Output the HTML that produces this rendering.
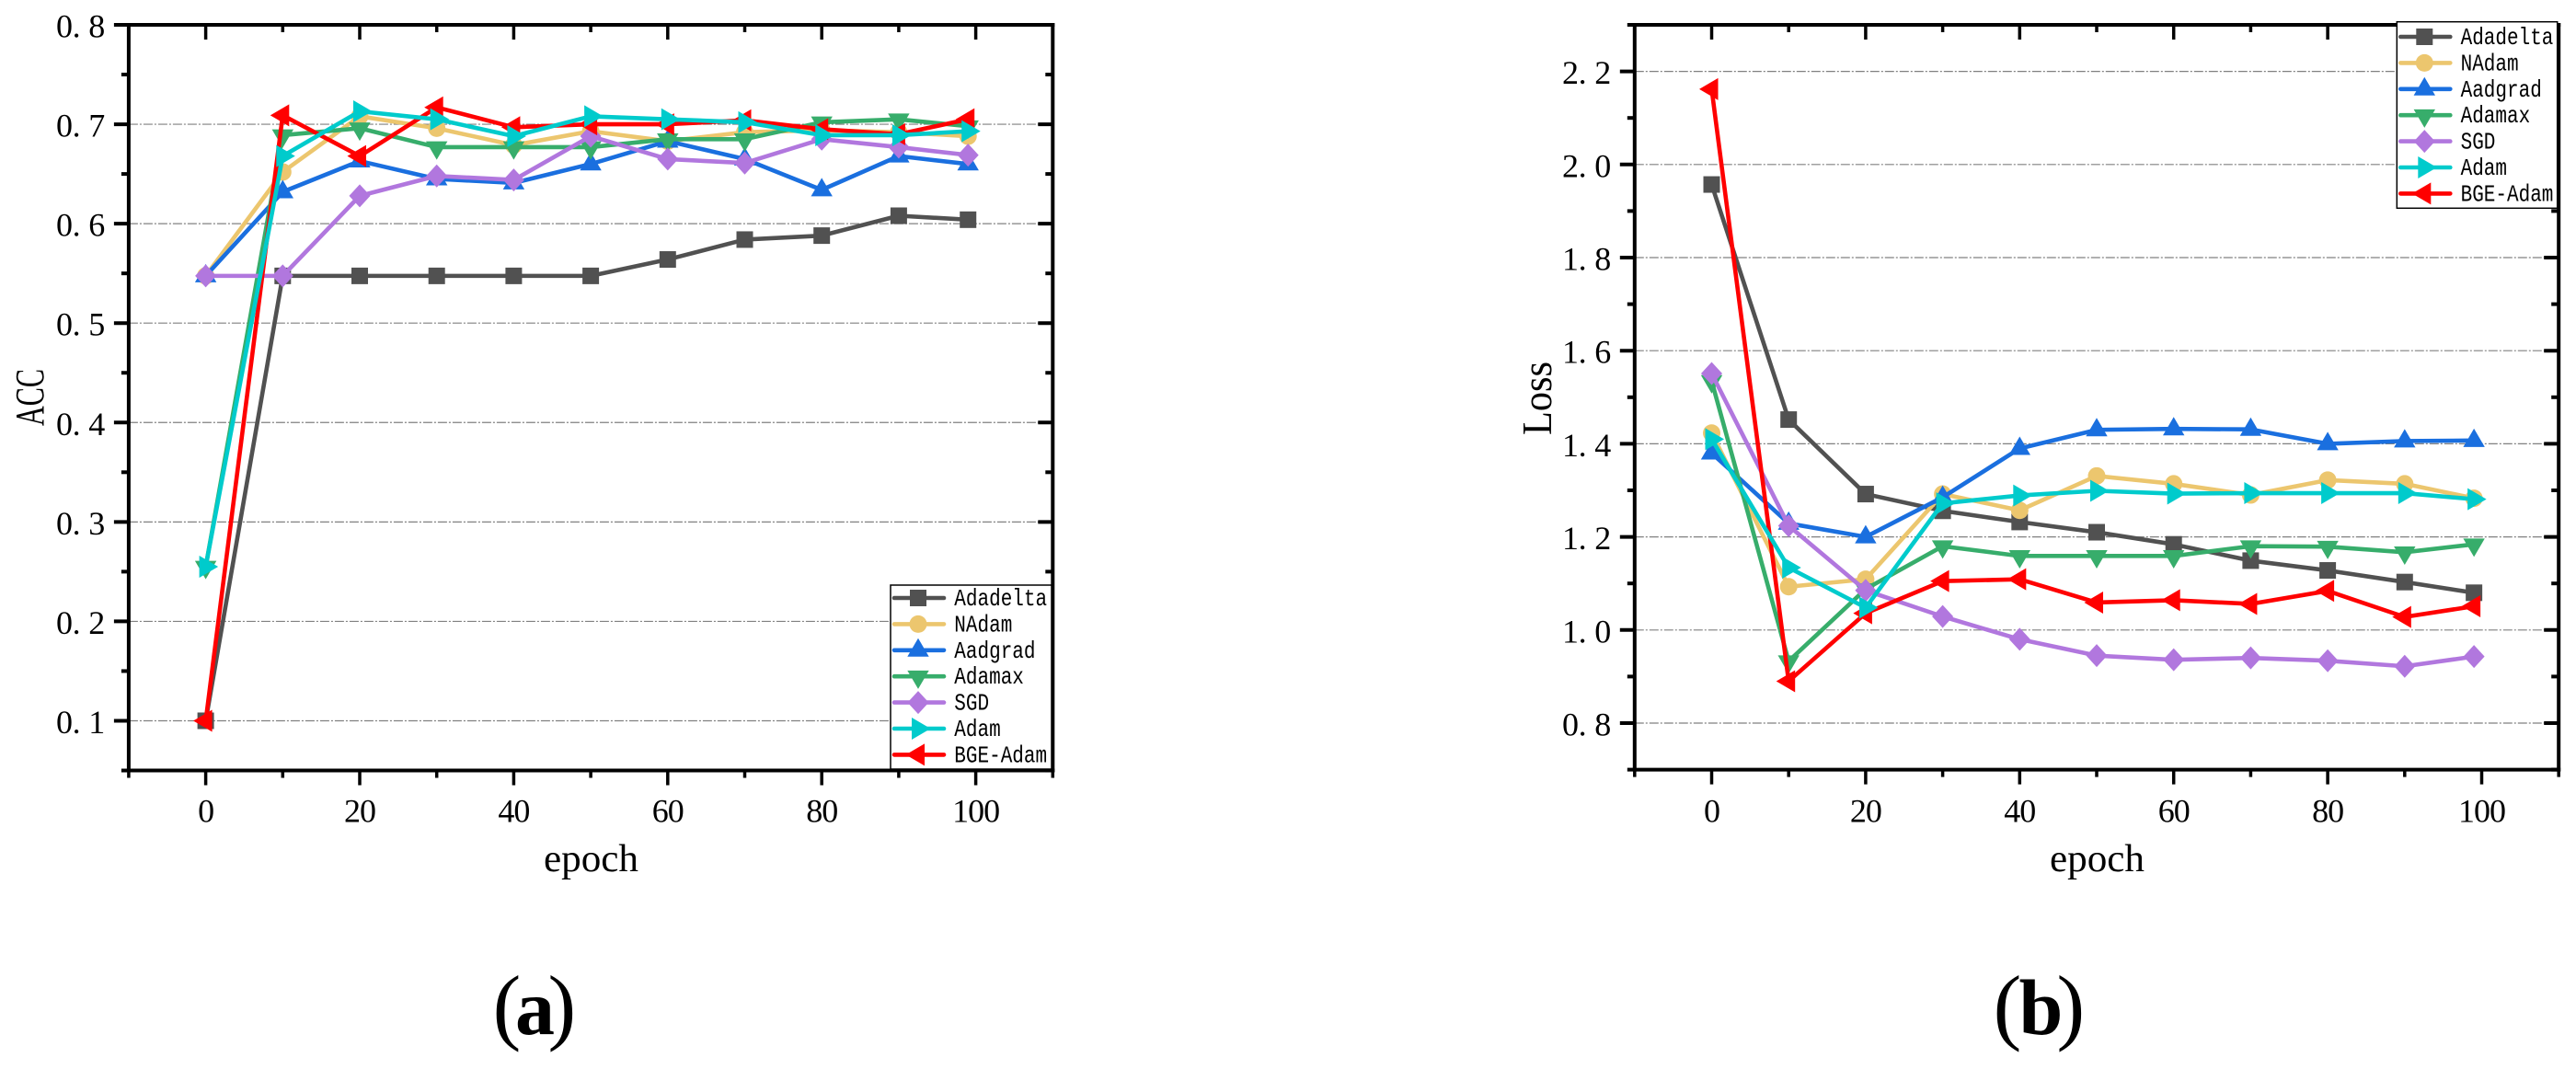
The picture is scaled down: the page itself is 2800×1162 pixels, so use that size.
<!DOCTYPE html>
<html lang="en">
<head>
<meta charset="utf-8">
<title>ACC and Loss per epoch for seven optimizers</title>
<style>
  html, body { margin: 0; padding: 0; background: #fff; }
  svg { display: block; }
  text { fill: #000; }
  .serif { font-family: "Liberation Serif", serif; }
  .mono { font-family: "Liberation Mono", monospace; }
</style>
</head>
<body>
<svg id="figure" xmlns="http://www.w3.org/2000/svg" width="2800" height="1162" viewBox="0 0 2800 1162">
  <rect x="0" y="0" width="2800" height="1162" fill="#ffffff"/>
  <g id="panel-a"></g>
  <g id="panel-b"></g>

  <text class="serif" font-size="44" text-anchor="middle" textLength="62" lengthAdjust="spacingAndGlyphs" transform="translate(47,432) rotate(-90)">ACC</text>
  <text class="serif" font-size="42" text-anchor="middle" textLength="103" lengthAdjust="spacingAndGlyphs" x="642.5" y="947">epoch</text>
  <text class="serif" font-size="92" y="1124"><tspan x="535.6">(</tspan><tspan x="560" font-size="86" font-weight="bold">a</tspan><tspan x="595.5">)</tspan></text>

  <text class="serif" font-size="46" text-anchor="middle" textLength="80" lengthAdjust="spacingAndGlyphs" transform="translate(1686,433) rotate(-90)">Loss</text>
  <text class="serif" font-size="42" text-anchor="middle" textLength="103" lengthAdjust="spacingAndGlyphs" x="2279.5" y="947">epoch</text>
  <text class="serif" font-size="92" y="1124"><tspan x="2166.6">(</tspan><tspan x="2194.5" font-size="86" font-weight="bold">b</tspan><tspan x="2235.5">)</tspan></text>
</svg>

<script>
// ---- shared categories and tick labels ----
const epochs = [0, 10, 20, 30, 40, 50, 60, 70, 80, 90, 99];
const xMajorTicks = [0, 20, 40, 60, 80, 100];
const xMinorTicks = [-10, 10, 30, 50, 70, 90, 110];
const seriesNames = ['Adadelta', 'NAdam', 'Aadgrad', 'Adamax', 'SGD', 'Adam', 'BGE-Adam'];

// ---- panel (a): ACC ----
const accTickLabels = ['0.1', '0.2', '0.3', '0.4', '0.5', '0.6', '0.7', '0.8'];
const accMinorTicks = [0.05, 0.15, 0.25, 0.35, 0.45, 0.55, 0.65, 0.75];
const accAdadelta = [0.1, 0.5475, 0.5475, 0.5475, 0.5475, 0.5475, 0.564, 0.584, 0.588, 0.608, 0.604];
const accNAdam = [0.5475, 0.652, 0.708, 0.696, 0.679, 0.693, 0.683, 0.692, 0.694, 0.692, 0.688];
const accAadgrad = [0.5475, 0.632, 0.663, 0.645, 0.641, 0.66, 0.683, 0.665, 0.634, 0.668, 0.66];
const accAdamax = [0.255, 0.689, 0.696, 0.677, 0.677, 0.677, 0.685, 0.685, 0.702, 0.705, 0.698];
const accSGD = [0.5475, 0.5475, 0.628, 0.648, 0.644, 0.688, 0.665, 0.661, 0.685, 0.677, 0.669];
const accAdam = [0.255, 0.668, 0.713, 0.705, 0.688, 0.708, 0.705, 0.702, 0.689, 0.689, 0.693];
const accBGEAdam = [0.1, 0.709, 0.668, 0.717, 0.697, 0.7, 0.7, 0.704, 0.695, 0.69, 0.705];

// ---- panel (b): Loss ----
const lossTickLabels = ['0.8', '1.0', '1.2', '1.4', '1.6', '1.8', '2.0', '2.2'];
const lossMinorTicks = [0.7, 0.9, 1.1, 1.3, 1.5, 1.7, 1.9, 2.1, 2.3];
const lossAdadelta = [1.957, 1.452, 1.292, 1.256, 1.232, 1.21, 1.184, 1.149, 1.128, 1.103, 1.08];
const lossNAdam = [1.423, 1.093, 1.109, 1.292, 1.257, 1.331, 1.314, 1.29, 1.322, 1.314, 1.283];
const lossAadgrad = [1.38, 1.229, 1.2, 1.285, 1.39, 1.43, 1.432, 1.431, 1.4, 1.406, 1.407];
const lossAdamax = [1.535, 0.933, 1.088, 1.18, 1.159, 1.159, 1.159, 1.18, 1.179, 1.167, 1.184];
const lossSGD = [1.551, 1.224, 1.085, 1.029, 0.98, 0.945, 0.936, 0.94, 0.934, 0.922, 0.943];
const lossAdam = [1.41, 1.134, 1.048, 1.272, 1.289, 1.299, 1.293, 1.294, 1.294, 1.294, 1.281];
const lossBGEAdam = [2.162, 0.89, 1.036, 1.105, 1.109, 1.059, 1.064, 1.056, 1.084, 1.028, 1.051];

// ---- styles (kept apart from the data) ----
const seriesColors = ['#515151', '#ECC66E', '#1A6FDF', '#37AD6B', '#B177DE', '#00CBCC', '#FF0000'];
const seriesShapes = ['square', 'circle', 'up', 'down', 'diamond', 'right', 'left'];
const paintOrder = [0, 1, 2, 3, 4, 6, 5];

const SVG_NS = 'http://www.w3.org/2000/svg';

function make(parent, tag, attrs) {
  const el = document.createElementNS(SVG_NS, tag);
  for (const key in attrs) el.setAttribute(key, attrs[key]);
  parent.appendChild(el);
  return el;
}

function slug(name) {
  return name.toLowerCase().replace(/[^a-z0-9]+/g, '-');
}

function drawMarker(parent, shape, x, y, color) {
  if (shape === 'square') {
    return make(parent, 'rect', { x: x - 9, y: y - 9, width: 18, height: 18, fill: color });
  }
  if (shape === 'circle') {
    return make(parent, 'circle', { cx: x, cy: y, r: 9.5, fill: color });
  }
  let pts;
  if (shape === 'up') pts = [[0, -13], [11.7, 7], [-11.7, 7]];
  if (shape === 'down') pts = [[0, 13.7], [11.7, -6.3], [-11.7, -6.3]];
  if (shape === 'right') pts = [[13.5, 0], [-7, 12], [-7, -12]];
  if (shape === 'left') pts = [[-13.5, 0], [7, 12], [7, -12]];
  if (shape === 'diamond') pts = [[0, -12.5], [11.5, 0], [0, 12.5], [-11.5, 0]];
  return make(parent, 'polygon', {
    points: pts.map(p => (x + p[0]) + ',' + (y + p[1])).join(' '),
    fill: color
  });
}

function drawCellText(parent, label, startX, baseline, cell) {
  const xs = [];
  for (let i = 0; i < label.length; i++) xs.push(startX + i * cell);
  const t = make(parent, 'text', { x: xs.join(' '), y: baseline, 'font-size': 36, class: 'serif' });
  t.textContent = label;
  return t;
}

function drawPanel(cfg) {
  const root = document.getElementById(cfg.rootId);
  const xPos = v => cfg.x0 + cfg.xUnit * v;
  const yPos = v => cfg.yTop + (cfg.yMax - v) * cfg.yUnit;
  const left = xPos(-10), right = xPos(110), top = yPos(cfg.yMax), bottom = yPos(cfg.yMin);

  // gridlines
  cfg.tickLabels.forEach(label => {
    const v = parseFloat(label);
    if (v >= cfg.yMax) return;
    const grid = make(root, 'line', {
      x1: left, x2: right, y1: yPos(v), y2: yPos(v),
      stroke: '#808080', 'stroke-width': 1.2, 'stroke-dasharray': '10 2 2 2'
    });
    
    
  });

  // series
  paintOrder.forEach(i => {
    const values = cfg.series[i];
    const color = seriesColors[i];
    const group = make(root, 'g', {});
    
    
    const line = make(group, 'polyline', {
      points: values.map((v, k) => xPos(epochs[k]) + ',' + yPos(v)).join(' '),
      fill: 'none', stroke: color, 'stroke-width': 4.6, 'stroke-linejoin': 'round'
    });
    
    
    values.forEach((v, k) => {
      const m = drawMarker(group, seriesShapes[i], xPos(epochs[k]), yPos(v), color);
      
      
    });
  });

  // axis frame
  const frame = [
    [left, top, right + 2, top, 'top-axis'],
    [left, bottom, right + 2, bottom, 'x-axis'],
    [left, top - 2, left, bottom + 2, 'y-axis'],
    [right, top - 2, right, bottom + 2, 'right-axis']
  ];
  frame.forEach(a => {
    const el = make(root, 'line', { x1: a[0], y1: a[1], x2: a[2], y2: a[3], stroke: '#000', 'stroke-width': 4 });
    
    
  });

  // x ticks
  function xTick(v, len) {
    const x = xPos(v);
    const lower = make(root, 'line', { x1: x, x2: x, y1: bottom, y2: bottom + len, stroke: '#000', 'stroke-width': 3.5 });
    
    
    if (v === -10 || v === 110) return;
    const upper = make(root, 'line', { x1: x, x2: x, y1: top, y2: top + len, stroke: '#000', 'stroke-width': 3.5 });
    
    
  }
  xMajorTicks.forEach(v => {
    xTick(v, 16);
    const label = String(v);
    const t = drawCellText(root, label, xPos(v) - label.length * 17 / 2, 893.5, 17);
    
    
  });
  xMinorTicks.forEach(v => xTick(v, 8));

  // y ticks
  function yTick(v, len) {
    const y = yPos(v);
    const outer = make(root, 'line', { x1: left - len, x2: left, y1: y, y2: y, stroke: '#000', 'stroke-width': 4 });
    
    
    const inner = make(root, 'line', { x1: right - len, x2: right, y1: y, y2: y, stroke: '#000', 'stroke-width': 4 });
    
    
  }
  cfg.tickLabels.forEach(label => {
    const v = parseFloat(label);
    yTick(v, 16);
    const t = drawCellText(root, label, cfg.labelX, yPos(v) + 13.5, 17.6);
    
    
  });
  cfg.minorTicks.forEach(v => yTick(v, 8));

  // legend
  const legend = make(root, 'g', {});
  
  
  const box = make(legend, 'rect', {
    x: cfg.legendX, y: cfg.legendY, width: cfg.legendW, height: cfg.legendH,
    fill: '#fff', stroke: '#000', 'stroke-width': 1.5
  });
  
  
  seriesNames.forEach((name, i) => {
    const rowY = cfg.legendFirstRow + i * 28.4;
    const entry = make(legend, 'g', {});
    
    
    const sample = make(entry, 'line', {
      x1: cfg.legendX + 4, x2: cfg.legendX + 58, y1: rowY, y2: rowY,
      stroke: seriesColors[i], 'stroke-width': 4.6, 'stroke-linecap': 'round'
    });
    
    
    const mark = drawMarker(entry, seriesShapes[i], cfg.legendX + 30, rowY, seriesColors[i]);
    
    
    const text = make(entry, 'text', {
      class: 'mono', 'font-size': 21,
      transform: 'translate(' + (cfg.legendX + 69.3) + ',' + (rowY + 8) + ') scale(1,1.25)'
    });
    text.textContent = name;
    
    
  });
}

drawPanel({
  rootId: 'panel-a', prefix: 'acc',
  x0: 223.6, xUnit: 8.37,
  yTop: 27, yMax: 0.8, yMin: 0.05, yUnit: 1080.7,
  labelX: 61,
  tickLabels: accTickLabels, minorTicks: accMinorTicks,
  series: [accAdadelta, accNAdam, accAadgrad, accAdamax, accSGD, accAdam, accBGEAdam],
  legendX: 968, legendY: 636, legendW: 175, legendH: 200, legendFirstRow: 650
});

drawPanel({
  rootId: 'panel-b', prefix: 'loss',
  x0: 1860.5, xUnit: 8.37,
  yTop: 27, yMax: 2.3, yMin: 0.7, yUnit: 506,
  labelX: 1698,
  tickLabels: lossTickLabels, minorTicks: lossMinorTicks,
  series: [lossAdadelta, lossNAdam, lossAadgrad, lossAdamax, lossSGD, lossAdam, lossBGEAdam],
  legendX: 2605.3, legendY: 23.7, legendW: 174.4, legendH: 202.6, legendFirstRow: 40
});
</script>
</body>
</html>
